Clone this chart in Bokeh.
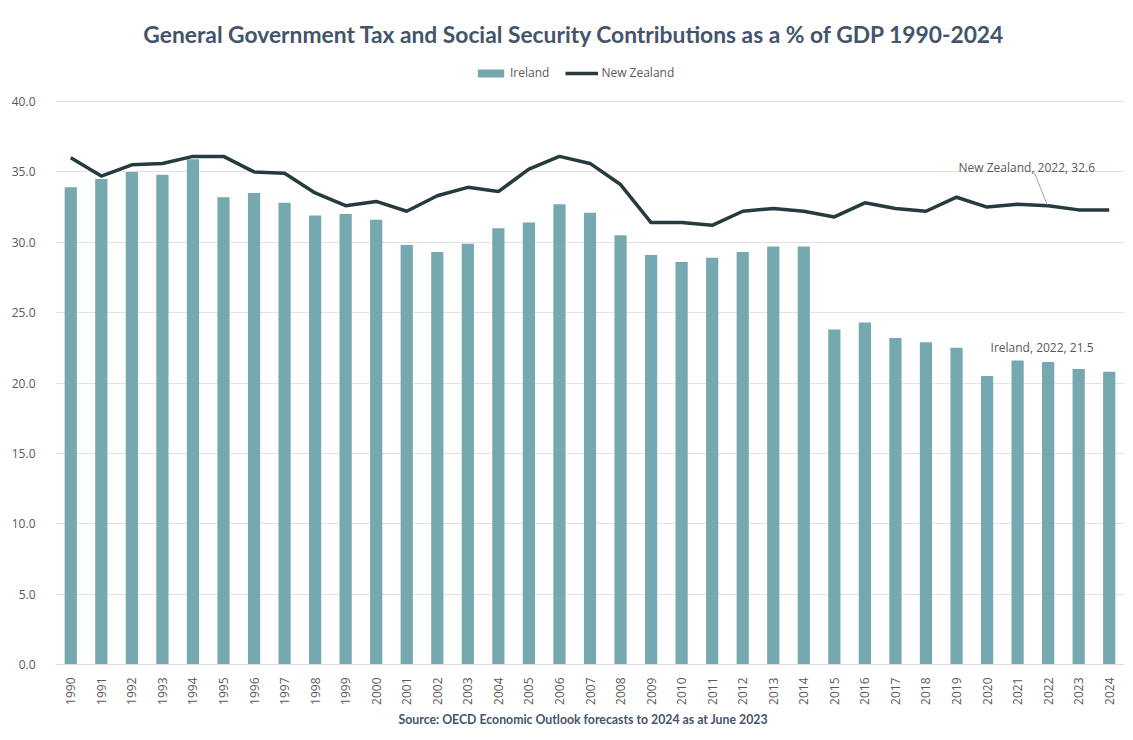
import math
from bokeh.plotting import figure
from bokeh.models import (ColumnDataSource, FactorRange, Range1d, Legend, LegendItem,
                          Title, Label, NumeralTickFormatter, FixedTicker)
from bokeh.embed import file_html
from bokeh.resources import INLINE

years = [str(y) for y in range(1990, 2025)]
ireland = [33.9, 34.5, 35.0, 34.8, 35.9, 33.2, 33.5, 32.8, 31.9, 32.0,
           31.6, 29.8, 29.3, 29.9, 31.0, 31.4, 32.7, 32.1, 30.5, 29.1,
           28.6, 28.9, 29.3, 29.7, 29.7, 23.8, 24.3, 23.2, 22.9, 22.5,
           20.5, 21.6, 21.5, 21.0, 20.8]
new_zealand = [36.0, 34.7, 35.5, 35.6, 36.1, 36.1, 35.0, 34.9, 33.5, 32.6,
               32.9, 32.2, 33.3, 33.9, 33.6, 35.2, 36.1, 35.6, 34.1, 31.4,
               31.4, 31.2, 32.2, 32.4, 32.2, 31.8, 32.8, 32.4, 32.2, 33.2,
               32.5, 32.7, 32.6, 32.3, 32.3]
y_ticks = [0, 5, 10, 15, 20, 25, 30, 35, 40]
title_text = "General Government Tax and Social Security Contributions as a % of GDP 1990-2024"
source_text = "Source: OECD Economic Outlook forecasts to 2024 as at June 2023"
label_year = "2022"

BAR = "#76A8B0"
LINE = "#263B3D"
TXT = "#595959"
TITLE = "#44546A"
FONT = "Open Sans"

# layout: frame spans the full height above the x axis so the title and legend
# can sit inside it; the value axis keeps 0..40 between y=664 and y=101.
FRAME_BOTTOM = 664
PLOT_TOP = 101
y_end = max(y_ticks) * FRAME_BOTTOM / (FRAME_BOTTOM - PLOT_TOP)

src = ColumnDataSource(dict(year=years, ireland=ireland, nz=new_zealand))

p = figure(width=1133, height=740, x_range=FactorRange(*years, range_padding=0),
           y_range=Range1d(0, y_end), output_backend="svg", toolbar_location=None,
           min_border_left=55, min_border_right=9, min_border_top=0,
           min_border_bottom=740 - FRAME_BOTTOM, title=None)
p.outline_line_color = None
p.background_fill_color = "white"
p.border_fill_color = "white"

bars = p.vbar(x="year", top="ireland", width=0.4, source=src, fill_color=BAR, line_color=None)
ln = p.line(x="year", y="nz", source=src, line_width=3.5, line_color=LINE)

# axes
p.yaxis.ticker = FixedTicker(ticks=y_ticks)
p.yaxis.formatter = NumeralTickFormatter(format="0.0")
p.yaxis.axis_line_color = None
p.yaxis.major_tick_line_color = None
p.yaxis.minor_tick_line_color = None
p.yaxis.major_label_text_font = FONT
p.yaxis.major_label_text_font_size = "12px"
p.yaxis.major_label_text_color = TXT
p.yaxis.major_label_standoff = 14

p.xaxis.axis_line_color = "#D9D9D9"
p.xaxis.major_tick_line_color = None
p.xaxis.minor_tick_line_color = None
p.xaxis.major_label_orientation = math.pi / 2
p.xaxis.major_label_text_font = FONT
p.xaxis.major_label_text_font_size = "12px"
p.xaxis.major_label_text_color = TXT
p.xaxis.major_label_standoff = 7

p.xgrid.grid_line_color = None
p.ygrid.grid_line_color = "#E3E3E3"
p.ygrid.grid_line_width = 1

# legend (top of the frame, above the plot area)
legend = Legend(items=[LegendItem(label="Ireland", renderers=[bars]),
                       LegendItem(label="New Zealand", renderers=[ln])],
                orientation="horizontal", location=(419, FRAME_BOTTOM - 81),
                label_text_font=FONT, label_text_font_size="12px", label_text_color=TXT,
                glyph_width=33, glyph_height=10, label_standoff=3, spacing=16,
                label_height=14,
                border_line_color=None, background_fill_alpha=0, padding=0, margin=0)
p.add_layout(legend)

# title
p.add_layout(Label(x=519, y=FRAME_BOTTOM - 33, x_units="screen", y_units="screen",
                   text=title_text, text_align="center", text_baseline="middle",
                   text_font="Lato", text_font_size="22.8px", text_font_style="bold",
                   text_color=TITLE))
# source below the axis
p.add_layout(Title(text=source_text, align="left", offset=343, text_font="Lato",
                   text_font_size="12.3px", text_font_style="bold", text_color=TITLE,
                   standoff=4), "below")

# annotations
i22 = years.index(label_year)
nz22 = new_zealand[i22]
ir22 = ireland[i22]
p.add_layout(Label(x=i22 - 0.2, y=nz22 + 2.7, text=f"New Zealand, {label_year}, {nz22}",
                   text_align="center", text_baseline="middle", text_font=FONT,
                   text_font_size="12px", text_color=TXT))
p.segment(x0=[i22 + 0.05], y0=[nz22 + 2.35], x1=[i22 + 0.47], y1=[nz22 + 0.05],
          line_color="#A6A6A6", line_width=1)
p.add_layout(Label(x=i22 + 0.3, y=ir22 + 1.0, text=f"Ireland, {label_year}, {ir22}",
                   text_align="center", text_baseline="middle", text_font=FONT,
                   text_font_size="12px", text_color=TXT))

open("out.html", "w").write(file_html(p, INLINE))
